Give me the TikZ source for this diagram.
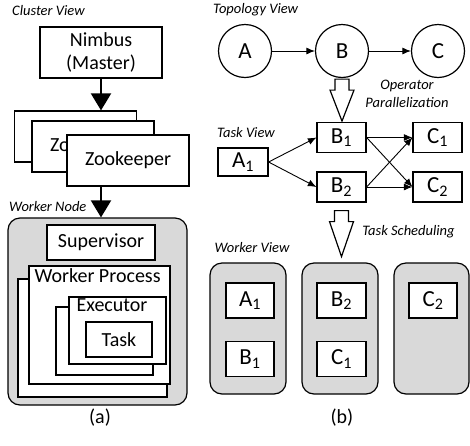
\documentclass[tikz,border=0pt]{standalone}
\usepackage{fontspec}
\setmainfont{Carlito}
\usetikzlibrary{arrows.meta}

\tikzset{
  box/.style={draw, line width=1.2pt, fill=white, inner sep=0pt, font=\fontsize{20}{23}\selectfont},
  zk/.style={box, minimum width=122pt, minimum height=51pt},
  tbox/.style={box, minimum width=49pt, minimum height=30pt, font=\fontsize{23}{25}\selectfont},
  op/.style={draw, circle, line width=1.2pt, minimum size=53pt, inner sep=0pt, font=\fontsize{23}{25}\selectfont},
  worker/.style={draw, line width=1.2pt, fill=gray!30, rounded corners=12pt},
  view/.style={font=\fontsize{14.5}{18}\selectfont\itshape, inner sep=0pt},
  flow/.style={line width=0.9pt, -{Latex[length=8.5pt,width=7pt]}},
  down/.style={line width=2pt, -{Triangle[length=17pt,width=20pt]}},
  block/.style={draw, line width=1.2pt, fill=white, line join=miter},
}

\begin{document}
\begin{tikzpicture}[x=1pt,y=-1pt]
    \useasboundingbox (0,0) rectangle (470,445);

    % (a) cluster view
    \node[view, anchor=west] (clusterlbl) at (12,11) {Cluster View};
    \node[box, minimum width=122pt, minimum height=51pt, align=center] (nimbus) at (101,52.5) {Nimbus\\(Master)};
    \node[zk] (zk3) at (75.5,136.5) {};
    \node[zk] (zk2) at (93,146.5) {Zookeeper};
    \node[zk] (zk1) at (128,160.5) {Zookeeper};
    \node[view, anchor=west] (nodelbl) at (9,207) {Worker Node};
    \node[worker, minimum width=179pt, minimum height=187pt] (wnode) at (97.5,311.5) {};
    \draw[down] (nimbus.south) -- (nimbus.south |- zk3.north);
    \draw[down] (zk1.south -| nimbus.south) -- (nimbus.south |- wnode.north);
    \node[box, minimum width=108pt, minimum height=35pt] (super) at (101,242.5) {Supervisor};
    \node[box, minimum width=149pt, minimum height=118pt] (wp2) at (92.5,338) {};
    \node[box, minimum width=141pt, minimum height=118pt,
      label={[anchor=north west, inner sep=0pt, xshift=6pt, yshift=-3pt, font=\fontsize{20}{23}\selectfont]north west:Worker Process}] (wp1) at (99.5,325) {};
    \node[box, minimum width=97pt, minimum height=68pt] (ex2) at (104.5,341) {};
    \node[box, minimum width=97pt, minimum height=67pt,
      label={[anchor=north west, inner sep=0pt, xshift=8pt, yshift=-2pt, font=\fontsize{20}{23}\selectfont]north west:Executor}] (ex1) at (117.5,330.5) {};
    \node[box, minimum width=66pt, minimum height=35pt] (task) at (119,339.5) {Task};
    \node[font=\fontsize{20}{23}\selectfont] (capa) at (100,418) {(a)};

    % (b) topology, task and worker views
    \node[view, anchor=west] (topolbl) at (213,10) {Topology View};
    \node[op] (A) at (245,51) {A};
    \node[op] (B) at (342,51) {B};
    \node[op] (C) at (438,51) {C};
    \draw[flow] (A) -- (B);
    \draw[flow] (B) -- (C);
    \draw[block] ([xshift=-7pt,yshift=-1pt]B.south) -- ++(0,11) -- ++(-5,0) -- ++(12,31) -- ++(12,-31) -- ++(-5,0) -- ++(0,-11) -- cycle;
    \node[view, align=center] (oplbl) at (407,94) {Operator\\Parallelization};

    \node[view] (tasklbl) at (246,133) {Task View};
    \node[tbox, minimum width=50pt, minimum height=28pt] (A1) at (243,162) {A\textsubscript{1}};
    \node[tbox] (B1) at (341.5,137.5) {B\textsubscript{1}};
    \node[tbox] (B2) at (341.5,187) {B\textsubscript{2}};
    \node[tbox] (C1) at (437.5,137.5) {C\textsubscript{1}};
    \node[tbox] (C2) at (437.5,187) {C\textsubscript{2}};
    \foreach \s/\t in {A1/B1, A1/B2, B1/C1, B1/C2, B2/C1, B2/C2}
      \draw[flow] (\s.east) -- (\t.west);
    \draw[block] ([xshift=-7pt,yshift=-8pt]B2.south) -- ++(0,11) -- ++(-5,0) -- ++(12,35) -- ++(12,-35) -- ++(-5,0) -- ++(0,-11) -- cycle;
    \node[view] (schedlbl) at (408.5,232) {Task Scheduling};

    \node[view] (workerlbl) at (252,248) {Worker View};
    \node[worker, minimum width=76pt, minimum height=131pt] (w1) at (248,328.5) {};
    \node[worker, minimum width=76pt, minimum height=131pt] (w2) at (340,328.5) {};
    \node[worker, minimum width=75pt, minimum height=131pt] (w3) at (431.5,328.5) {};
    \node[tbox, minimum width=48pt, minimum height=35pt] (wA1) at (250,300.5) {A\textsubscript{1}};
    \node[tbox, minimum width=48pt, minimum height=35pt] (wB1) at (250,359) {B\textsubscript{1}};
    \node[tbox, minimum width=49pt, minimum height=35pt] (wB2) at (341.5,300.5) {B\textsubscript{2}};
    \node[tbox, minimum width=49pt, minimum height=35pt] (wC1) at (341.5,359) {C\textsubscript{1}};
    \node[tbox, minimum width=48pt, minimum height=35pt] (wC2) at (433,300.5) {C\textsubscript{2}};
    \node[font=\fontsize{20}{23}\selectfont] (capb) at (342,418) {(b)};
  \end{tikzpicture}
\end{document}
